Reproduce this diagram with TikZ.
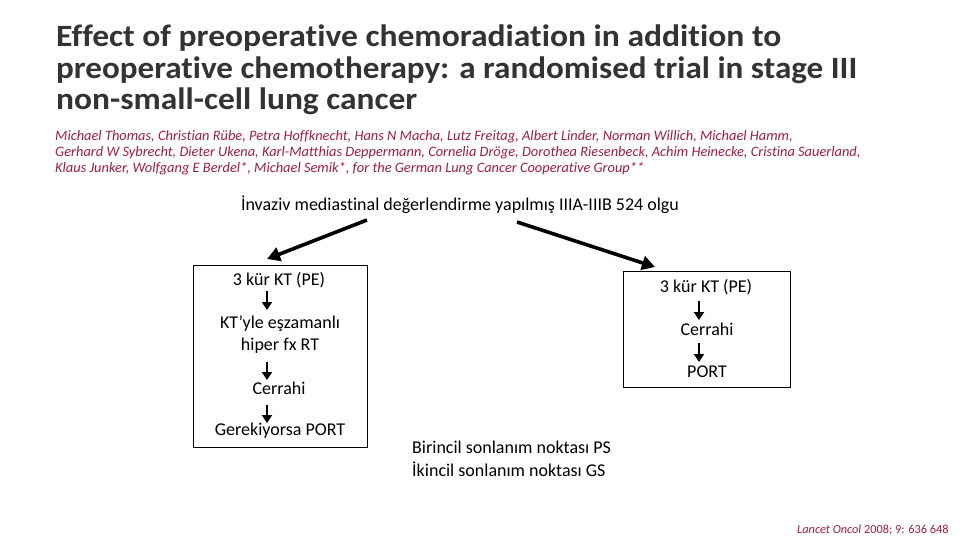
\documentclass[tikz,border=0pt]{standalone}
\usepackage{fontspec}
\usepackage{graphicx}
\setmainfont{Carlito}[Ligatures=NoCommon]
\usetikzlibrary{arrows.meta}
\definecolor{titlegray}{HTML}{333333}
\definecolor{authred}{HTML}{9E1F45}
\tikzset{
  body/.style={font=\fontsize{18}{21}\selectfont, inner sep=0pt},
  titletext/.style={anchor=west, inner sep=0pt, text=titlegray, font=\fontsize{31}{34}\selectfont\bfseries},
  authtext/.style={anchor=west, inner sep=0pt, text=authred, font=\fontsize{14.4}{16}\selectfont\itshape},
  frame/.style={draw=black, line width=0.8pt},
  bigarrow/.style={line width=3.6pt, -{Triangle[length=13pt,width=14pt]}},
  smallarrow/.style={line width=2.6pt, -{Triangle[length=8pt,width=10pt]}},
}
\begin{document}
\begin{tikzpicture}[x=1pt,y=-1pt]
\useasboundingbox[fill=white] (0,0) rectangle (960,540);
% title
\node[titletext] (t1) at (56,38) {\resizebox{725pt}{\height}{Effect of preoperative chemoradiation in addition to}};
\node[titletext] (t2) at (56,70) {\resizebox{801pt}{\height}{preoperative chemotherapy: a randomised trial in stage III}};
\node[titletext] (t3) at (56,101) {\resizebox{361pt}{\height}{non-small-cell lung cancer}};
% authors
\node[authtext] (a1) at (55,137) {Michael Thomas, Christian Rübe, Petra Hoffknecht, Hans N Macha, Lutz Freitag, Albert Linder, Norman Willich, Michael Hamm,};
\node[authtext] (a2) at (55,153) {Gerhard W Sybrecht, Dieter Ukena, Karl-Matthias Deppermann, Cornelia Dröge, Dorothea Riesenbeck, Achim Heinecke, Cristina Sauerland,};
\node[authtext] (a3) at (55,169) {Klaus Junker, Wolfgang E Berdel*, Michael Semik*, for the German Lung Cancer Cooperative Group**};
% top text
\node[body] (top) at (460,205) {İnvaziv mediastinal değerlendirme yapılmış IIIA-IIIB 524 olgu};
% boxes
\node[frame, minimum width=174pt, minimum height=182pt, inner sep=0pt] (lbox) at (280,356) {};
\node[frame, minimum width=167pt, minimum height=116pt, inner sep=0pt] (rbox) at (706.5,329) {};
\coordinate (ls) at (367,220);
\coordinate (lt) at (267,259);
\coordinate (rs) at (517,222);
\coordinate (rt) at (655,267);
\draw[bigarrow] (ls) -- (lt);
\draw[bigarrow] (rs) -- (rt);
% left box content
\node[body] (l1) at (279,280) {3 kür KT (PE)};
\node[body, align=center] (l2) at (280,334.5) {KT’yle eşzamanlı\\[1pt]hiper fx RT};
\node[body] (l3) at (279,388) {Cerrahi};
\node[body] (l4) at (280,431) {Gerekiyorsa PORT};
\draw[smallarrow] (267,291) -- (267,310);
\draw[smallarrow] (267,362) -- (267,380);
\draw[smallarrow] (267,405) -- (267,423);
% right box content
\node[body] (r1) at (706,287) {3 kür KT (PE)};
\node[body] (r2) at (707,329) {Cerrahi};
\node[body] (r3) at (707,372) {PORT};
\draw[smallarrow] (699,301) -- (699,320);
\draw[smallarrow] (699,343) -- (699,362);
% endpoints
\node[body, anchor=west] (e1) at (412,447) {Birincil sonlanım noktası PS};
\node[body, anchor=west] (e2) at (412,469) {İkincil sonlanım noktası GS};
% citation
\node[anchor=west, inner sep=0pt, text=authred, font=\fontsize{12.3}{14}\selectfont] (cit) at (797,530) {\textit{Lancet Oncol} 2008; 9: 636  648};
\end{tikzpicture}
\end{document}
